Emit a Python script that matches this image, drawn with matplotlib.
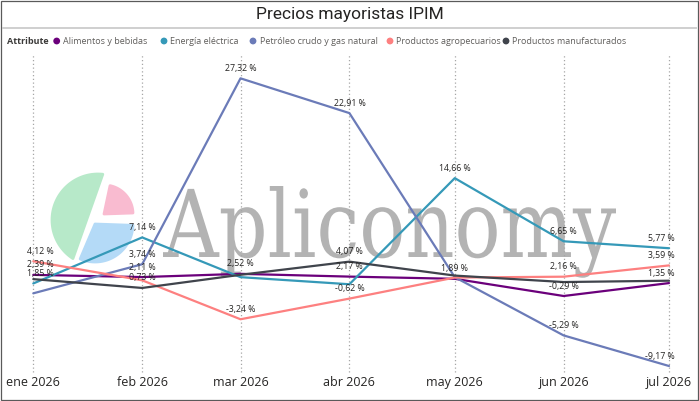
import matplotlib
matplotlib.use('Agg')
import matplotlib.pyplot as plt
import matplotlib.dates as mdates
from matplotlib.textpath import TextPath
from matplotlib.patches import PathPatch, Polygon, Rectangle, Circle
from matplotlib.font_manager import FontProperties
from matplotlib.transforms import Affine2D
import numpy as np
import datetime

meses = ['2026-01-01', '2026-02-01', '2026-03-01', '2026-04-01', '2026-05-01', '2026-06-01', '2026-07-01']
etiquetas_x = ['ene 2026', 'feb 2026', 'mar 2026', 'abr 2026', 'may 2026', 'jun 2026', 'jul 2026']

series = ['Alimentos y bebidas', 'Energía eléctrica', 'Petróleo crudo y gas natural',
          'Productos agropecuarios', 'Productos manufacturados']
alimentos = [2.39, 2.11, 2.52, 2.17, 1.89, -0.29, 1.35]
energia = [1.30, 7.14, 2.10, 1.20, 14.66, 6.65, 5.77]
petroleo = [0.05, 3.74, 27.32, 22.91, 2.10, -5.29, -9.17]
agropecuarios = [4.12, 1.70, -3.24, -0.62, 2.05, 2.16, 3.59]
manufacturados = [1.85, 0.73, 2.40, 4.07, 2.30, 1.48, 1.65]

# puntos con etiqueta visible (indices de mes)
con_etiqueta = [[0, 1, 2, 3, 4, 5, 6], [1, 4, 5, 6], [1, 2, 3, 5, 6], [0, 2, 3, 5, 6], [0, 1, 3]]

colores = ['#6B007B', '#3599B8', '#6B7BB8', '#FD8080', '#40444C']

W, H = 699, 401
fig = plt.figure(figsize=(W / 100, H / 100), dpi=100)

bg = fig.add_axes([0, 0, 1, 1])
bg.set_xlim(0, W)
bg.set_ylim(H, 0)
bg.axis('off')

bg.add_patch(Rectangle((1, 1), W - 2.5, H - 2.5, fill=False, ec='#5a5a5a', lw=0.9))
bg.plot([3, W - 3], [27.5, 27.5], color='#cfcfcf', lw=1.4)
bg.text(W / 2, 14, 'Precios mayoristas IPIM', ha='center', va='center', fontsize=12.5,
        family=['Roboto', 'DejaVu Sans'], color='#252423')

# leyenda
bg.text(7, 41, 'Attribute', ha='left', va='center', fontsize=6.5, fontweight='bold',
        family=['Open Sans', 'DejaVu Sans'], color='#3b3a39')
punto_x = [56.7, 164, 253, 390, 506]
for i in range(len(series)):
    bg.add_patch(Circle((punto_x[i], 41), 3.4, color=colores[i], lw=0))
    bg.text(punto_x[i] + 6.5, 41, series[i], ha='left', va='center', fontsize=6.5,
            family=['Open Sans', 'DejaVu Sans'], color='#605e5c')


# logo de marca de agua
def sector(cx, cy, r, a1, a2, cuerda=False):
    t = np.radians(np.linspace(a1, a2, 60))
    pts = np.column_stack([cx + r * np.cos(t), cy - r * np.sin(t)])
    if not cuerda:
        pts = np.vstack([[cx, cy], pts])
    return pts


bg.add_patch(Polygon(sector(98, 220, 46, 84, 237, cuerda=True), closed=True,
                     fc='#B7E9C9', ec='#B7E9C9', lw=2, joinstyle='round'))
bg.add_patch(Polygon(sector(104, 214, 29, 2, 78), closed=True,
                     fc='#F9BBD0', ec='#F9BBD0', lw=2, joinstyle='round'))
bg.add_patch(Polygon(sector(95, 224, 38, -113, -2), closed=True,
                     fc='#B4DAF7', ec='#B4DAF7', lw=2, joinstyle='round'))

tp = TextPath((0, 0), 'Apliconomy', size=1, prop=FontProperties(family='DejaVu Serif'))
bb = tp.get_extents()
sx = (616 - 163) / bb.width
sy = (257 - 186) / bb.y1
tr = Affine2D().translate(-bb.x0, 0).scale(sx, -sy).translate(163, 257)
bg.add_patch(PathPatch(tr.transform_path(tp), fc='#b3b3b3', ec='none'))

# grafico
ax = fig.add_axes([33.3 / W, 1 - 372 / H, (669 - 33.3) / W, (372 - 55) / H])
ax.set_facecolor('none')
for s in ax.spines.values():
    s.set_visible(False)

x = [mdates.date2num(datetime.date.fromisoformat(m)) for m in meses]
ax.set_xlim(x[0], x[-1])
ax.set_ylim(-9.93, 30.28)
ax.set_yticks([])
ax.set_xticks(x)
ax.set_xticklabels(etiquetas_x, fontsize=9, family=['Open Sans', 'DejaVu Sans'], color='#252423')
ax.tick_params(axis='x', length=0, pad=3)
for xi in x:
    ax.axvline(xi, color='#a6a6a6', lw=0.9, ls=(0, (1, 2)), clip_on=False, zorder=1)

datos = [alimentos, energia, petroleo, agropecuarios, manufacturados]
for i in range(len(datos)):
    ax.plot(x, datos[i], color=colores[i], lw=1.6, clip_on=False, zorder=3,
            solid_joinstyle='round', solid_capstyle='round')

for i in range(len(datos)):
    for j in con_etiqueta[i]:
        v = datos[i][j]
        txt = ('%.2f' % v).replace('.', ',') + ' %'
        ha = 'center'
        dx = 0
        if j == 0:
            ha, dx = 'left', -4.5
        elif j == len(x) - 1:
            ha, dx = 'right', 4.3
        dy = 7.2
        if i == 4 and j == 0:
            dy = 4.0
        ax.annotate(txt, (x[j], v), xytext=(dx, dy), textcoords='offset points',
                    ha=ha, va='center', fontsize=6.3, family=['Open Sans', 'DejaVu Sans'],
                    color='#252423', annotation_clip=False, zorder=4)

fig.savefig('out.png', dpi=100)
